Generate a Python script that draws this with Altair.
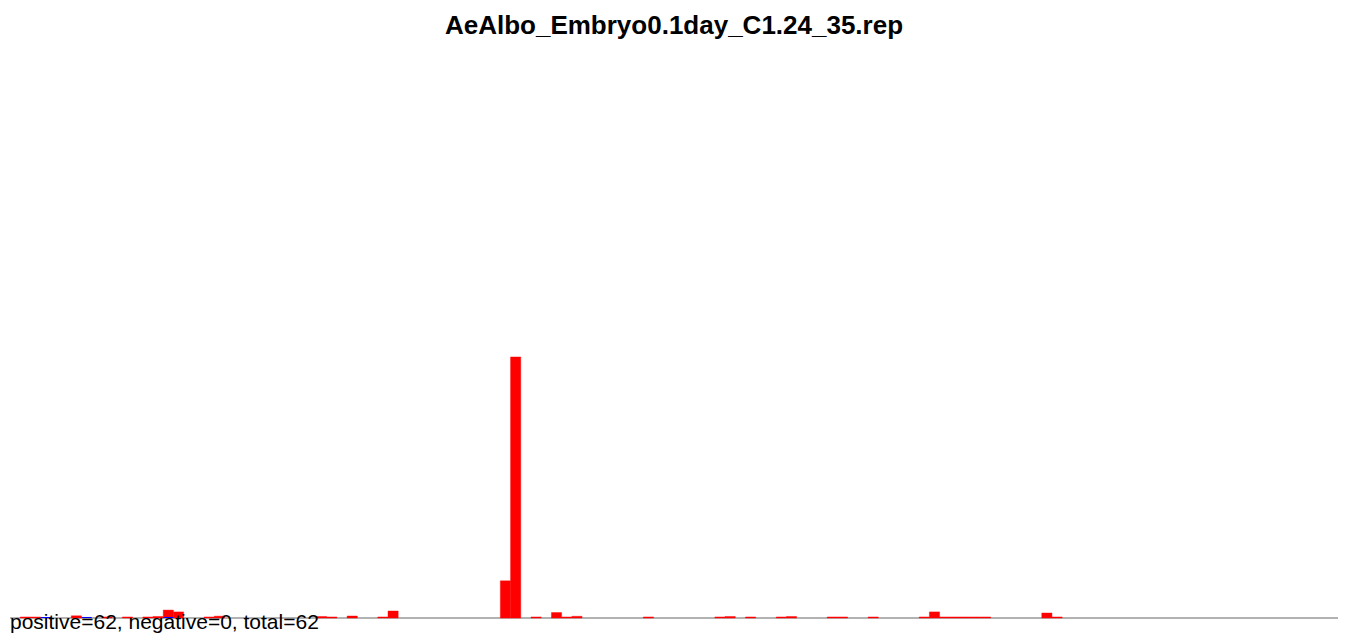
import altair as alt
import pandas as pd

title_text = "AeAlbo_Embryo0.1day_C1.24_35.rep"
footer_text = "positive=62, negative=0, total=62"

n_bins = 130

# red series: bin index and value
red_bins = [1, 2, 6, 9, 11, 13, 14, 15, 16, 19, 20, 30, 31, 33, 36, 37,
            48, 49, 51, 53, 54, 55, 62, 69, 70, 72, 75, 76, 80, 81, 84,
            89, 90, 91, 92, 93, 94, 95, 101, 102]
red_values = [0.17, 0.17, 0.35, 0.17, 0.17, 0.17, 0.25, 1.3, 1.0, 0.17, 0.3, 0.25, 0.17, 0.33, 0.17, 1.15,
              6.1, 42.8, 0.17, 0.9, 0.17, 0.28, 0.17, 0.17, 0.25, 0.17, 0.17, 0.25, 0.17, 0.17, 0.17,
              0.17, 1.0, 0.17, 0.17, 0.17, 0.17, 0.17, 0.82, 0.17]

# blue series
blue_bins = [3, 7, 15]
blue_values = [0.17, 0.17, 0.17]

red_df = pd.DataFrame({"start": red_bins, "value": red_values})
red_df["end"] = red_df["start"] + 1
blue_df = pd.DataFrame({"start": blue_bins, "value": blue_values})
blue_df["end"] = blue_df["start"] + 1

xs = alt.Scale(domain=[0, n_bins], nice=False, zero=False)
ys = alt.Scale(domain=[0, 100], nice=False)

base_line = alt.Chart(pd.DataFrame({"x0": [0], "x1": [n_bins], "y": [0]})).mark_rule(
    color="#999999", strokeWidth=1.5
).encode(
    x=alt.X("x0:Q", scale=xs, axis=None),
    x2="x1:Q",
    y=alt.Y("y:Q", scale=ys, axis=None),
)

red = alt.Chart(red_df).mark_rect(color="#ff0000", stroke="#ff0000", strokeWidth=0.4).encode(
    x=alt.X("start:Q", scale=xs, axis=None),
    x2="end:Q",
    y=alt.Y("value:Q", scale=ys, axis=None),
    y2=alt.datum(0),
)

blue = alt.Chart(blue_df).mark_rect(color="#0000ff").encode(
    x=alt.X("start:Q", scale=xs, axis=None),
    x2="end:Q",
    y=alt.Y("value:Q", scale=ys, axis=None),
    y2=alt.datum(0),
)

title = alt.Chart(alt.Data(values=[{"t": title_text}])).mark_text(
    font="Liberation Sans", fontSize=26, fontWeight="bold", align="center",
    baseline="alphabetic", color="black"
).encode(x=alt.value(664), y=alt.value(26), text="t:N")

footer = alt.Chart(alt.Data(values=[{"t": footer_text}])).mark_text(
    font="Liberation Sans", fontSize=21, align="left",
    baseline="alphabetic", color="black"
).encode(x=alt.value(0), y=alt.value(621), text="t:N")

chart = alt.layer(base_line, red, blue, title, footer).properties(
    width=1328, height=610,
    autosize=alt.AutoSizeParams(type="none"),
    padding={"left": 2, "top": 0, "right": 0, "bottom": 17},
).configure_view(stroke=None)

chart.save("out.html", embed_options={"renderer": "svg", "actions": False})
